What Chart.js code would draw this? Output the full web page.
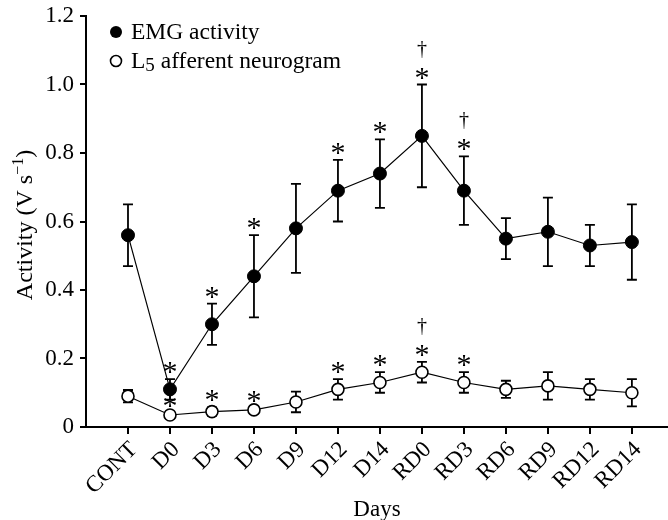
<!DOCTYPE html>
<html>
<head>
<meta charset="utf-8">
<script src="https://cdn.jsdelivr.net/npm/chart.js@4/dist/chart.umd.min.js"></script>
<style>
    html, body { margin: 0; padding: 0; background: #fff; }
    #wrap { width: 668px; height: 520px; position: relative; }
</style>
</head>
<body>
<div id="wrap"><canvas id="chart" width="668" height="520"></canvas></div>
<script>
// Category labels along the x axis
const days = ['CONT', 'D0', 'D3', 'D6', 'D9', 'D12', 'D14', 'RD0', 'RD3', 'RD6', 'RD9', 'RD12', 'RD14'];

// EMG activity (mean and error)
const emgMean = [0.56, 0.11, 0.30, 0.44, 0.58, 0.69, 0.74, 0.85, 0.69, 0.55, 0.57, 0.53, 0.54];
const emgErr  = [0.09, 0.03, 0.06, 0.12, 0.13, 0.09, 0.10, 0.15, 0.10, 0.06, 0.10, 0.06, 0.11];

// L5 afferent neurogram (mean and error)
const neuroMean = [0.09, 0.035, 0.045, 0.05, 0.073, 0.11, 0.13, 0.16, 0.13, 0.11, 0.12, 0.11, 0.10];
const neuroErr  = [0.018, 0.006, 0.012, 0.006, 0.03, 0.03, 0.03, 0.03, 0.03, 0.025, 0.04, 0.03, 0.04];

// Significance markers: * and †
const emgStar     = [0, 1, 1, 1, 0, 1, 1, 1, 1, 0, 0, 0, 0];
const emgDagger   = [0, 0, 0, 0, 0, 0, 0, 1, 1, 0, 0, 0, 0];
const neuroStar   = [0, 1, 1, 1, 0, 1, 1, 1, 1, 0, 0, 0, 0];
const neuroDagger = [0, 0, 0, 0, 0, 0, 0, 1, 0, 0, 0, 0, 0];

// Y axis ticks
const yTicks = [0, 0.2, 0.4, 0.6, 0.8, 1.0, 1.2];

const SERIF = '"Liberation Serif", "Times New Roman", serif';
const FONT_SIZE = 23;

// Error bars drawn under the points
const errorBars = {
    id: 'errorBars',
    beforeDatasetsDraw(chart) {
        const { ctx, scales: { x, y } } = chart;
        const sets = [[emgMean, emgErr], [neuroMean, neuroErr]];
        ctx.save();
        ctx.strokeStyle = '#000';
        ctx.lineWidth = 1.8;
        for (const [mean, err] of sets) {
            mean.forEach((m, i) => {
                const px = x.getPixelForValue(i);
                const top = y.getPixelForValue(m + err[i]);
                const bot = y.getPixelForValue(m - err[i]);
                ctx.beginPath();
                ctx.moveTo(px, top); ctx.lineTo(px, bot);
                ctx.moveTo(px - 5, top); ctx.lineTo(px + 5, top);
                ctx.moveTo(px - 5, bot); ctx.lineTo(px + 5, bot);
                ctx.stroke();
            });
        }
        ctx.restore();
    }
};

// Rotated x labels, asterisks, daggers, legend and axis titles
const annotations = {
    id: 'annotations',
    afterDraw(chart) {
        const { ctx, scales: { x, y }, chartArea } = chart;
        ctx.save();
        ctx.fillStyle = '#000';

        // x tick labels at 45 degrees
        ctx.font = FONT_SIZE + 'px ' + SERIF;
        ctx.textAlign = 'right';
        ctx.textBaseline = 'middle';
        days.forEach((d, i) => {
            const px = x.getPixelForValue(i);
            ctx.save();
            ctx.translate(px + 6, chartArea.bottom + 19);
            ctx.rotate(-Math.PI / 4);
            ctx.fillText(d, 0, 0);
            ctx.restore();
        });

        ctx.textAlign = 'center';
        ctx.textBaseline = 'alphabetic';
        const marks = [
            [emgMean, emgErr, emgStar, emgDagger],
            [neuroMean, neuroErr, neuroStar, neuroDagger]
        ];
        for (const [mean, err, star, dag] of marks) {
            mean.forEach((m, i) => {
                if (!star[i]) return;
                const px = x.getPixelForValue(i);
                const top = y.getPixelForValue(m + err[i]);
                const starY = top - 12;
                ctx.font = '30px ' + SERIF;
                ctx.fillText('*', px, starY + 14);
                if (dag[i]) {
                    ctx.font = '20px ' + SERIF;
                    ctx.fillText('\u2020', px, starY - 24 + 6);
                }
            });
        }

        // Legend
        ctx.textAlign = 'left';
        ctx.font = '23.5px ' + SERIF;
        ctx.beginPath();
        ctx.arc(116, 32, 6, 0, Math.PI * 2);
        ctx.fill();
        ctx.fillText('EMG activity', 131, 39);

        ctx.beginPath();
        ctx.arc(116, 61, 5.5, 0, Math.PI * 2);
        ctx.fillStyle = '#fff';
        ctx.fill();
        ctx.lineWidth = 1.6;
        ctx.strokeStyle = '#000';
        ctx.stroke();
        ctx.fillStyle = '#000';
        ctx.fillText('L', 131, 68);
        let w = ctx.measureText('L').width;
        ctx.font = '19px ' + SERIF;
        ctx.fillText('5', 131 + w, 71);
        w += ctx.measureText('5').width;
        ctx.font = '23.5px ' + SERIF;
        ctx.fillText(' afferent neurogram', 131 + w, 68);

        // X axis title
        ctx.textAlign = 'center';
        ctx.font = FONT_SIZE + 'px ' + SERIF;
        ctx.fillText('Days', (chartArea.left + chartArea.right) / 2, 516);

        // Y axis title with superscript
        ctx.translate(32, 225);
        ctx.rotate(-Math.PI / 2);
        ctx.textAlign = 'left';
        const main = 'Activity (V s';
        const big = '24px ' + SERIF;
        const small = '16px ' + SERIF;
        ctx.font = big;
        const mw = ctx.measureText(main).width;
        ctx.font = small;
        const sw = ctx.measureText('\u22121').width;
        ctx.font = big;
        const cw = ctx.measureText(')').width;
        const start = -(mw + sw + cw) / 2;
        ctx.fillText(main, start, 0);
        ctx.font = small;
        ctx.fillText('\u22121', start + mw, -9);
        ctx.font = big;
        ctx.fillText(')', start + mw + sw, 0);
        ctx.restore();
    }
};

function initChart() {
    const ctx = document.getElementById('chart').getContext('2d');
    new Chart(ctx, {
        type: 'line',
        data: {
            datasets: [{
                label: 'EMG activity',
                data: emgMean.map((v, i) => ({ x: i, y: v })),
                borderColor: '#000',
                borderWidth: 1.2,
                pointRadius: 6.5,
                pointBackgroundColor: '#000',
                pointBorderColor: '#000',
                pointBorderWidth: 1
            }, {
                label: 'L5 afferent neurogram',
                data: neuroMean.map((v, i) => ({ x: i, y: v })),
                borderColor: '#000',
                borderWidth: 1.2,
                pointRadius: 6,
                pointBackgroundColor: '#fff',
                pointBorderColor: '#000',
                pointBorderWidth: 1.6
            }]
        },
        options: {
            responsive: false,
            animation: false,
            layout: { autoPadding: false, padding: { top: 16, right: 0, left: 0, bottom: 0 } },
            plugins: {
                legend: { display: false },
                tooltip: { enabled: false }
            },
            scales: {
                x: {
                    type: 'linear',
                    min: -1,
                    max: 12.86,
                    afterFit: s => { s.height = 93; s.paddingLeft = 0; s.paddingRight = 0; },
                    afterBuildTicks: s => { s.ticks = days.map((d, i) => ({ value: i })); },
                    grid: { drawOnChartArea: false, drawTicks: true, tickLength: 7, color: '#000', lineWidth: 2 },
                    border: { color: '#000', width: 2 },
                    ticks: { display: false }
                },
                y: {
                    min: 0,
                    max: 1.2,
                    afterFit: s => { s.width = 86; s.paddingTop = 0; s.paddingBottom = 0; },
                    afterBuildTicks: s => { s.ticks = yTicks.map(v => ({ value: v })); },
                    grid: { drawOnChartArea: false, drawTicks: true, tickLength: 6, color: '#000', lineWidth: 2 },
                    border: { color: '#000', width: 2 },
                    ticks: {
                        color: '#000',
                        font: { family: SERIF, size: FONT_SIZE },
                        padding: 6,
                        callback: v => v === 0 ? '0' : v.toFixed(1)
                    }
                }
            }
        },
        plugins: [errorBars, annotations]
    });
}

initChart();
</script>
</body>
</html>
